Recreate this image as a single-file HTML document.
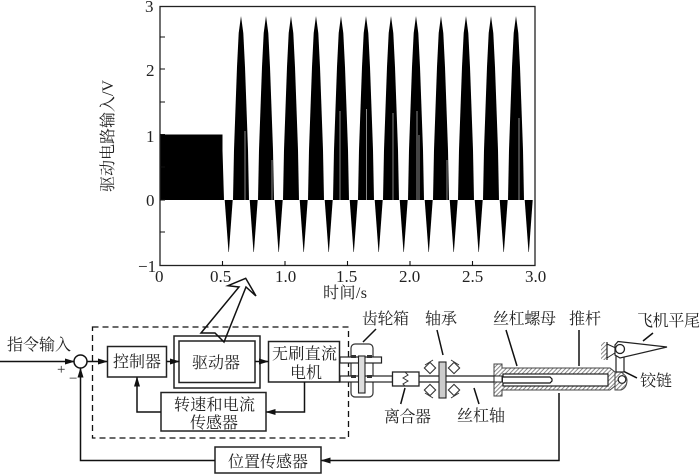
<!DOCTYPE html>
<html lang="zh-CN"><head><meta charset="utf-8"><style>
html,body{margin:0;padding:0;background:#fff}
svg{display:block}
text{font-family:"Liberation Serif","Noto Serif CJK SC",serif;fill:#222;font-size:16px}
.n{font-size:17px}
.l{stroke:#111;stroke-width:1.5;fill:none}
.t{stroke:#111;stroke-width:1.1;fill:none}
.b{stroke:#222;stroke-width:1.5;fill:#fff}
.h{stroke:#444;stroke-width:1;fill:url(#hatch)}
</style></head><body>
<svg width="700" height="474" viewBox="0 0 700 474" xmlns="http://www.w3.org/2000/svg">
<defs>
<pattern id="hatch" width="3" height="3" patternUnits="userSpaceOnUse" patternTransform="rotate(45)"><rect width="3" height="3" fill="#fff"/><rect width="1" height="3" fill="#888"/></pattern>
<path id="p" d="M0,16 L-2.300,33 L-4,67 L-5.200,100 L-7,150 L-8,200 L8,200 L7,150 L5.200,100 L4,67 L2.300,33 Z" fill="#000"/>
<path id="m" d="M-4,200 L-0.2,252 L0.2,252 L4,200Z" fill="#000"/>
<marker id="ar" markerWidth="10" markerHeight="7" refX="9" refY="3.5" orient="auto" markerUnits="userSpaceOnUse"><path d="M0,0.5 L10,3.5 L0,6.5 Z" fill="#111"/></marker>
</defs>

<!-- plot -->
<rect x="160" y="134.500" width="62.500" height="65.500" fill="#000"/>
<path d="M222,134 L224,200 L222,200Z" fill="#000"/>
<g>
<use href="#p" x="241"/><use href="#p" x="266"/><use href="#p" x="291"/><use href="#p" x="316"/><use href="#p" x="341"/><use href="#p" x="366"/><use href="#p" x="391"/><use href="#p" x="416"/><use href="#p" x="441"/><use href="#p" x="466"/><use href="#p" x="491"/><use href="#p" x="516"/>
<use href="#m" x="228.700"/><use href="#m" x="253.700"/><use href="#m" x="278.700"/><use href="#m" x="303.700"/><use href="#m" x="328.700"/><use href="#m" x="353.700"/><use href="#m" x="378.700"/><use href="#m" x="403.700"/><use href="#m" x="428.700"/><use href="#m" x="453.700"/><use href="#m" x="478.700"/><use href="#m" x="503.700"/><use href="#m" x="528.700"/>
</g>
<g stroke="#888" stroke-width="1" fill="none">
<path d="M245,131V200M340,111V200M366.500,109V200M393,113V200M417,111V200M419,135V200M519,118V200M272,160V200M447,160V200"/>
</g>
<rect x="160" y="6.500" width="375" height="259" fill="none" stroke="#222" stroke-width="1.300"/>
<path class="t" d="M160,37H165M160,69H165M160,102H165M160,134.500H165M160,167H165M160,200H165M160,232H165M222.500,266V261M285,266V261M347.500,266V261M410,266V261M472.500,266V261"/>
<text class="n" x="145" y="12">3</text>
<text class="n" x="146" y="76">2</text>
<text class="n" x="146" y="142">1</text>
<text class="n" x="146" y="206">0</text>
<text class="n" x="138" y="272">−1</text>
<text class="n" x="155" y="282">0</text>
<text class="n" x="210" y="282">0.5</text>
<text class="n" x="275" y="282">1.0</text>
<text class="n" x="336" y="282">1.5</text>
<text class="n" x="399" y="282">2.0</text>
<text class="n" x="462" y="282">2.5</text>
<text class="n" x="525" y="282">3.0</text>
<text x="323" y="298" textLength="44" lengthAdjust="spacing">时间/s</text>
<text transform="translate(113,192) rotate(-90)" textLength="112" lengthAdjust="spacing">驱动电路输入/V</text>

<!-- dashed frame -->
<rect x="92.500" y="327" width="256" height="111" fill="none" stroke="#111" stroke-width="1.300" stroke-dasharray="6 4"/>

<!-- blocks -->
<rect class="b" x="174" y="336" width="86" height="52"/>
<rect class="b" x="179" y="341" width="76" height="41.500"/>
<rect class="b" x="107.500" y="346.500" width="59" height="30.500"/>
<rect class="b" x="268.500" y="341.500" width="71" height="40.500"/>
<rect class="b" x="161" y="392.500" width="105" height="38.500"/>
<rect class="b" x="215" y="447" width="106" height="26"/>
<circle cx="80.500" cy="361.500" r="6.500" fill="#fff" stroke="#111" stroke-width="1.500"/>

<!-- big arrow -->
<path d="M201,333 L239,287 L228,285.700 L245.700,278.300 L256,296 L246,287 L224,342 L215,333 Z" fill="none" stroke="#111" stroke-width="1.500"/>

<!-- connectors -->
<path class="l" d="M0,361.500H74" marker-end="url(#ar)"/>
<path class="l" d="M87,361.500H107" marker-end="url(#ar)"/>
<path class="l" d="M166.500,361.500H179" marker-end="url(#ar)"/>
<path class="l" d="M255,361.500H268" marker-end="url(#ar)"/>
<path class="l" d="M304.500,382V412H266.500" marker-end="url(#ar)"/>
<path class="l" d="M161,412H137V377.500" marker-end="url(#ar)"/>
<path class="l" d="M215,460.500H80.500V368.500" marker-end="url(#ar)"/>
<path class="l" d="M559,393V460.500H321.500" marker-end="url(#ar)"/>

<!-- leaders -->
<path class="l" d="M376,329L363,342M437,330L443,355M405,388L400.700,404M474,388L479,404M506,330L517,366M579,330V366M653,333L643,341M637,378L623,371"/>

<!-- gearbox -->
<rect x="351" y="344" width="22" height="53" rx="4" fill="#fff" stroke="#333" stroke-width="1.200"/>
<rect x="340" y="357" width="41.500" height="6" fill="#fff" stroke="#222" stroke-width="1.200"/>
<rect x="340" y="376" width="52.500" height="6" fill="#fff" stroke="#222" stroke-width="1.200"/>
<rect x="358.500" y="356" width="6.500" height="37" fill="#ddd" stroke="#222" stroke-width="1.100"/>
<path d="M351,355h5v3h-5zM351,375h5v3h-5zM367,355h5v3h-5zM367,375h5v3h-5z" fill="#333"/>
<!-- clutch -->
<rect x="392.500" y="372" width="26.500" height="14" fill="#fff" stroke="#222" stroke-width="1.300"/>
<path d="M405,372L408,375L403,378L408,381L403,384L405,386" fill="none" stroke="#333" stroke-width="1"/>
<!-- shaft -->
<path d="M419,376H494M419,382H494" stroke="#222" stroke-width="1.300" fill="none"/>
<!-- bearing -->
<rect x="439" y="362" width="7" height="36" fill="#ccc" stroke="#222" stroke-width="1.100"/>
<g fill="#fff" stroke="#333" stroke-width="1.100">
<rect x="-4" y="-4" width="8" height="8" transform="translate(430,368) rotate(45)"/>
<rect x="-4" y="-4" width="8" height="8" transform="translate(454,368) rotate(45)"/>
<rect x="-4" y="-4" width="8" height="8" transform="translate(430,390) rotate(45)"/>
<rect x="-4" y="-4" width="8" height="8" transform="translate(454,390) rotate(45)"/>
</g>
<path d="M425,365L433,360M459,365L451,360M425,393L433,398M459,393L451,398" stroke="#333" stroke-width="1"/>
<!-- nut / cylinder -->
<path class="h" d="M494,364H502V368H610L615,372V386L610,390H502V396H494Z"/>
<rect x="503" y="374" width="105" height="12" fill="#fff" stroke="#222" stroke-width="1.200"/>
<rect x="494" y="376" width="8" height="6" fill="#fff" stroke="#222" stroke-width="1"/>
<path d="M503,377H550L552,379V381L550,383H503" fill="#fff" stroke="#111" stroke-width="1.200"/>
<path d="M615,372H621Q627,376 627,380Q627,388 621,390H615Z" fill="url(#hatch)" stroke="#444"/>
<circle cx="622" cy="379.500" r="3.800" fill="#fff" stroke="#222" stroke-width="1.200"/>
<!-- link & tail -->
<rect x="616" y="356" width="8" height="16" fill="#fff" stroke="#222" stroke-width="1.200"/>
<rect x="601" y="342" width="6" height="18" fill="url(#hatch)"/>
<path d="M607,342V360" stroke="#222" stroke-width="1.200"/>
<path d="M607,344L618,349M607,358L618,351" stroke="#222" stroke-width="1"/>
<path d="M618,341.500L667,347L620,358L615,355L615,345Z" fill="#fff" stroke="#222" stroke-width="1.200"/>
<circle cx="620" cy="349" r="4.500" fill="#fff" stroke="#222" stroke-width="1.300"/>

<!-- labels -->
<text x="7" y="350" textLength="64" lengthAdjust="spacing">指令输入</text>
<text x="57" y="374" style="font-size:15px">+</text>
<text x="69" y="383" style="font-size:15px">−</text>
<text x="113" y="367">控制器</text>
<text x="192" y="368">驱动器</text>
<text x="272" y="359" textLength="65" lengthAdjust="spacing">无刷直流</text>
<text x="290" y="378">电机</text>
<text x="174" y="410" textLength="81" lengthAdjust="spacing">转速和电流</text>
<text x="190" y="428">传感器</text>
<text x="228" y="467" textLength="80" lengthAdjust="spacing">位置传感器</text>
<text x="362" y="324" textLength="47" lengthAdjust="spacing">齿轮箱</text>
<text x="425" y="324">轴承</text>
<text x="493" y="324" textLength="63" lengthAdjust="spacing">丝杠螺母</text>
<text x="569" y="324">推杆</text>
<text x="637" y="326" textLength="63" lengthAdjust="spacing">飞机平尾</text>
<text x="640" y="386">铰链</text>
<text x="384" y="422" textLength="47" lengthAdjust="spacing">离合器</text>
<text x="457" y="421" textLength="48" lengthAdjust="spacing">丝杠轴</text>
</svg>
</body></html>
